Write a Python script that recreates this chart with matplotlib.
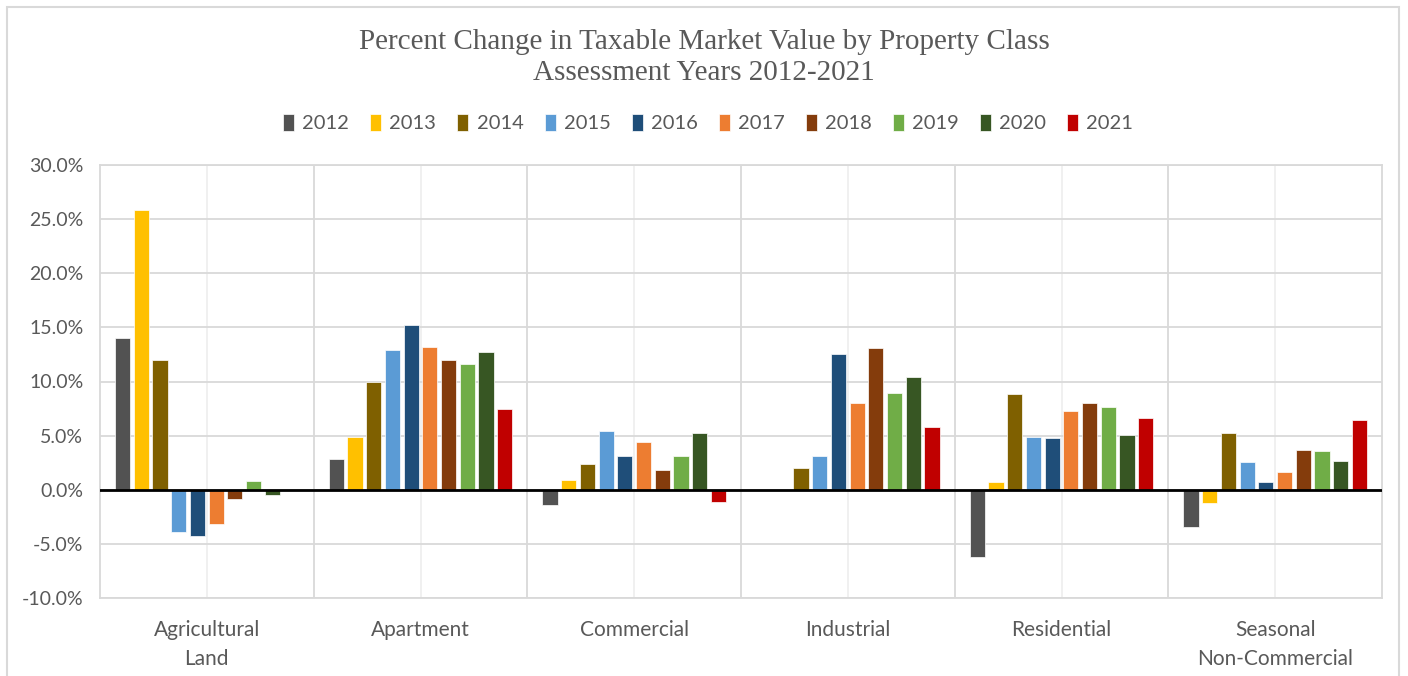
import matplotlib.pyplot as plt
import numpy as np
from matplotlib.patches import Rectangle

categories = ["Agricultural\nLand", "Apartment", "Commercial", "Industrial",
              "Residential", "Seasonal\nNon-Commercial"]
years = ["2012", "2013", "2014", "2015", "2016", "2017", "2018", "2019", "2020", "2021"]

# percent change per year, one value per category (in category order above)
pct_2012 = [14.0, 2.8, -1.45, 0.0, -6.2, -3.45]
pct_2013 = [25.8, 4.9, 0.9, 0.0, 0.7, -1.2]
pct_2014 = [12.0, 10.0, 2.35, 2.05, 8.8, 5.25]
pct_2015 = [-3.9, 12.95, 5.45, 3.1, 4.9, 2.55]
pct_2016 = [-4.3, 15.25, 3.1, 12.55, 4.8, 0.7]
pct_2017 = [-3.2, 13.2, 4.4, 8.0, 7.3, 1.6]
pct_2018 = [-0.9, 12.0, 1.8, 13.1, 8.0, 3.7]
pct_2019 = [0.8, 11.65, 3.1, 8.9, 7.65, 3.55]
pct_2020 = [-0.45, 12.7, 5.25, 10.4, 5.1, 2.65]
pct_2021 = [0.0, 7.45, -1.1, 5.8, 6.65, 6.45]

series = [pct_2012, pct_2013, pct_2014, pct_2015, pct_2016,
          pct_2017, pct_2018, pct_2019, pct_2020, pct_2021]
colors = ["#525252", "#FFC000", "#7F6000", "#5B9BD5", "#1F4E79",
          "#ED7D31", "#843C0C", "#70AD47", "#375623", "#C00000"]

GRAY = "#595959"
GRID = "#d9d9d9"

fig = plt.figure(figsize=(14.08, 6.76), dpi=100)
W, H = 1408, 676
ax = fig.add_axes([100 / W, 1 - 598 / H, 1282 / W, 433 / H])

# outer chart frame (bottom runs off the image)
fig.patches.append(Rectangle((7 / W, -0.05), 1392 / W, 1.05 - 7 / H,
                             transform=fig.transFigure, fill=False,
                             edgecolor=GRID, lw=1.5))

x = np.arange(len(categories))
step = 0.0874
bw = 0.0716
for i, (vals, c, yr) in enumerate(zip(series, colors, years)):
    off = (i - 4.5) * step
    ax.bar(x + off, vals, width=bw, color=c, edgecolor="white", lw=0.5,
           label=yr, zorder=2)

ax.axhline(0, color="black", lw=2, zorder=3)

ax.set_xlim(-0.5, len(categories) - 0.5)
ax.set_ylim(-10, 30)
ax.set_yticks(np.arange(-10, 31, 5))
ax.set_yticklabels([f"{v:.1f}%" for v in np.arange(-10, 31, 5)])
ax.set_xticks(x)
ax.set_xticklabels(categories)
ax.set_xticks(np.arange(0.5, len(categories) - 0.5, 1), minor=True)

ax.set_axisbelow(True)
ax.grid(axis="y", color=GRID, lw=1.3)
ax.grid(axis="x", which="major", color="#efefef", lw=1.3)
ax.grid(axis="x", which="minor", color=GRID, lw=1.3)
ax.tick_params(which="both", length=0)
ax.tick_params(axis="y", pad=12, labelsize=14, labelcolor=GRAY)
ax.tick_params(axis="x", pad=16, labelsize=15, labelcolor=GRAY)
for lab in ax.get_xticklabels() + ax.get_yticklabels():
    lab.set_family("Lato")
for lab in ax.get_xticklabels():
    lab.set_linespacing(1.55)
for s in ax.spines.values():
    s.set_color(GRID)
    s.set_lw(1.3)

fig.text(0.5, 1 - 42 / H, "Percent Change in Taxable Market Value by Property Class",
         ha="center", va="center", family="Liberation Serif", fontsize=21, color=GRAY)
fig.text(0.5, 1 - 73 / H, "Assessment Years 2012-2021",
         ha="center", va="center", family="Liberation Serif", fontsize=21, color=GRAY)

fig.legend(loc="center", bbox_to_anchor=(0.503, 1 - 123 / H), ncol=10,
           frameon=False, prop={"family": "Lato", "size": 14.5},
           labelcolor=GRAY, handlelength=0.55, handleheight=0.9,
           handletextpad=0.4, columnspacing=1.05)

fig.savefig("out.png", dpi=100)
